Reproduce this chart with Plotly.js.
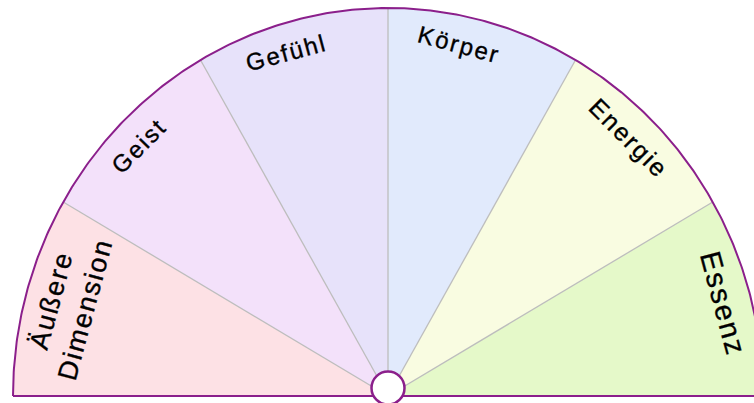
<!DOCTYPE html>
<html>
<head>
<meta charset="utf-8">
<script src="https://cdn.plot.ly/plotly-3.0.1.min.js"></script>
<style>
html,body{margin:0;padding:0;background:#fff;overflow:hidden;}
#chart{width:754px;height:403px;}
text.annotation-text{letter-spacing:2px;stroke:#000;stroke-width:0.35px;}
</style>
</head>
<body>
<div id="chart"></div>
<script>
// ---- data ----
const categories = ["Äußere<br>Dimension", "Geist", "Gefühl", "Körper", "Energie", "Essenz"];
const shares = [1, 1, 1, 1, 1, 1];
const sectorColors = ["#fde1e5", "#f3e1fa", "#e7e2fa", "#e1eafc", "#f9fce1", "#e5f9c9"];

// ---- style ----
const labelSizes = [27, 24, 24, 24, 25, 29];
const labelAngleShift = [-0.5, 0.8, 2, 3.2, 1, 0];   // small placement tweaks (degrees)
const W = 754, H = 403;
const cxPx = 388, cyPx = 396;      // centre of the half disc in pixels
const rxPx = 375, ryPx = 388;      // radii in pixels
const borderColor = "#8b1f8b";
const spokeColor = "#bdbdbd";
const fontFamily = "Liberation Sans, Arial, sans-serif";

const xRange = [-cxPx / rxPx, (W - cxPx) / rxPx];
const yRange = [-(H - cyPx) / ryPx, cyPx / ryPx];

const total = shares.reduce((a, b) => a + b, 0);
const traces = [];
const annotations = [];
const boundaries = [];
let startDeg = 180;
const rad = d => d * Math.PI / 180;

categories.forEach((cat, i) => {
  const span = 180 * shares[i] / total;
  const a0 = startDeg, a1 = startDeg - span;
  const xs = [0], ys = [0];
  const steps = 60;
  for (let k = 0; k <= steps; k++) {
    const a = a0 + (a1 - a0) * k / steps;
    xs.push(Math.cos(rad(a)));
    ys.push(Math.sin(rad(a)));
  }
  xs.push(0); ys.push(0);
  traces.push({
    type: "scatter", mode: "lines", x: xs, y: ys, fill: "toself",
    fillcolor: sectorColors[i], line: {width: 0, color: sectorColors[i]},
    hoverinfo: "skip", showlegend: false
  });
  const mid = (a0 + a1) / 2;
  const la = mid + labelAngleShift[i];
  const twoLine = cat.indexOf("<br>") >= 0;
  const lr = twoLine ? 0.885 : 0.925;
  annotations.push({
    x: lr * Math.cos(rad(la)), y: lr * Math.sin(rad(la)),
    xref: "x", yref: "y", text: cat, showarrow: false,
    textangle: 90 - mid,
    font: {family: fontFamily, size: labelSizes[i], color: "#000"},
    align: "center", xanchor: "center", yanchor: "middle"
  });
  if (i > 0) boundaries.push(a0);
  startDeg = a1;
});

// spokes
boundaries.forEach(a => {
  traces.push({
    type: "scatter", mode: "lines",
    x: [0, Math.cos(rad(a))], y: [0, Math.sin(rad(a))],
    line: {color: spokeColor, width: 1.3}, hoverinfo: "skip", showlegend: false
  });
});

// outer arc
const arcX = [], arcY = [];
for (let k = 0; k <= 360; k++) {
  const a = 180 - k * 0.5;
  arcX.push(Math.cos(rad(a))); arcY.push(Math.sin(rad(a)));
}
traces.push({type: "scatter", mode: "lines", x: arcX, y: arcY,
  line: {color: borderColor, width: 2}, hoverinfo: "skip", showlegend: false});
// base line
traces.push({type: "scatter", mode: "lines", x: [-1, xRange[1] + 0.1], y: [0, 0],
  line: {color: borderColor, width: 2}, hoverinfo: "skip", showlegend: false});
// hub
traces.push({type: "scatter", mode: "markers", x: [0], y: [8 / ryPx],
  marker: {size: 33, color: "#ffffff", line: {color: borderColor, width: 2.5}},
  hoverinfo: "skip", showlegend: false, cliponaxis: false});

const layout = {
  width: W, height: H,
  margin: {l: 0, r: 0, t: 0, b: 0, pad: 0},
  paper_bgcolor: "#ffffff", plot_bgcolor: "#ffffff",
  xaxis: {range: xRange, visible: false, fixedrange: true},
  yaxis: {range: yRange, visible: false, fixedrange: true},
  showlegend: false,
  annotations: annotations
};

Plotly.newPlot("chart", traces, layout, {staticPlot: true, displayModeBar: false});
</script>
</body>
</html>
